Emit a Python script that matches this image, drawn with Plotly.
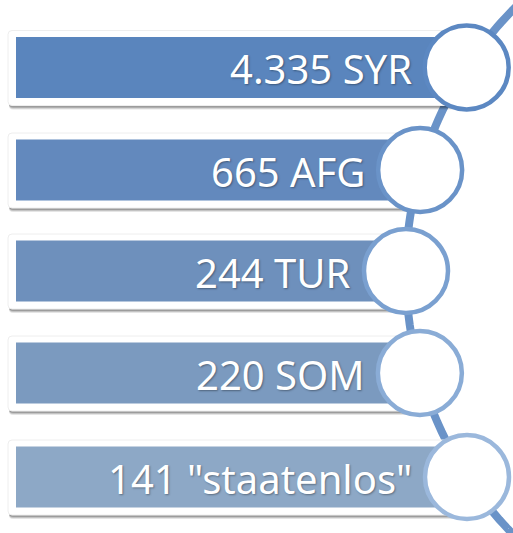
import numpy as np
import plotly.graph_objects as go

# data
counts = ["4.335", "665", "244", "220", "141"]
codes = ["SYR", "AFG", "TUR", "SOM", '"staatenlos"']
bar_colors = ["#5a85bd", "#6389bd", "#6e90bc", "#7b9abf", "#8da8c6"]
ring_colors = ["#5c88c2", "#6a93c8", "#7aa0d0", "#8aacd6", "#9bb8dc"]

W, H = 513, 533
row_y = [67.5, 170, 271, 373, 477]
arc_cx, arc_cy, arc_r = 781, 272, 375
circle_r = 42


def arc_x(y):
    return arc_cx - np.sqrt(arc_r ** 2 - (y - arc_cy) ** 2)


def rounded_rect(x0, y0, x1, y1, r):
    return (f"M{x0+r},{y0} L{x1-r},{y0} Q{x1},{y0} {x1},{y0+r} "
            f"L{x1},{y1-r} Q{x1},{y1} {x1-r},{y1} L{x0+r},{y1} "
            f"Q{x0},{y1} {x0},{y1-r} L{x0},{y0+r} Q{x0},{y0} {x0+r},{y0} Z")


fig = go.Figure()
shapes = []

# arc line behind everything
ys = np.linspace(-10, H + 10, 120)
pts = " L".join(f"{arc_x(y):.1f},{y:.1f}" for y in ys)
shapes.append(dict(type="path", path="M" + pts, line=dict(color="#6a93c8", width=8)))

annotations = []
for i, (c, code) in enumerate(zip(counts, codes)):
    yc = row_y[i]
    cx = arc_x(yc)
    # shadow
    for k, op in [(4, 0.10), (3, 0.15), (2, 0.2)]:
        shapes.append(dict(type="path", path=rounded_rect(9, yc - 37 + k, cx, yc + 38 + k, 4),
                           fillcolor=f"rgba(0,0,0,{op})", line=dict(width=0)))
    # white frame
    shapes.append(dict(type="path", path=rounded_rect(8, yc - 37, cx, yc + 38, 4),
                       fillcolor="white", line=dict(color="#eeeeee", width=1)))
    # blue bar
    shapes.append(dict(type="rect", x0=16, x1=cx, y0=yc - 30.5, y1=yc + 30.5,
                       fillcolor=bar_colors[i], line=dict(width=0)))
    annotations.append(dict(x=cx - 53, y=yc + 1, text=f"{c} {code}", showarrow=False,
                            xanchor="right", yanchor="middle",
                            font=dict(family="Noto Sans", size=40, color="white",
                                      shadow="1px 1px 2px rgba(0,0,0,0.35)")))

for i in range(len(counts)):
    yc = row_y[i]
    cx = arc_x(yc)
    shapes.append(dict(type="circle", x0=cx - circle_r, x1=cx + circle_r,
                       y0=yc - circle_r, y1=yc + circle_r,
                       fillcolor="white", line=dict(color=ring_colors[i], width=4.5)))

fig.update_layout(
    width=W, height=H,
    margin=dict(l=0, r=0, t=0, b=0),
    paper_bgcolor="white", plot_bgcolor="white",
    xaxis=dict(range=[0, W], visible=False, fixedrange=True),
    yaxis=dict(range=[H, 0], visible=False, fixedrange=True),
    shapes=shapes, annotations=annotations,
    showlegend=False,
)

fig.write_html("out.html", config={"displayModeBar": False},
               post_script="document.body.style.margin='0px';document.body.style.overflow='hidden';")
